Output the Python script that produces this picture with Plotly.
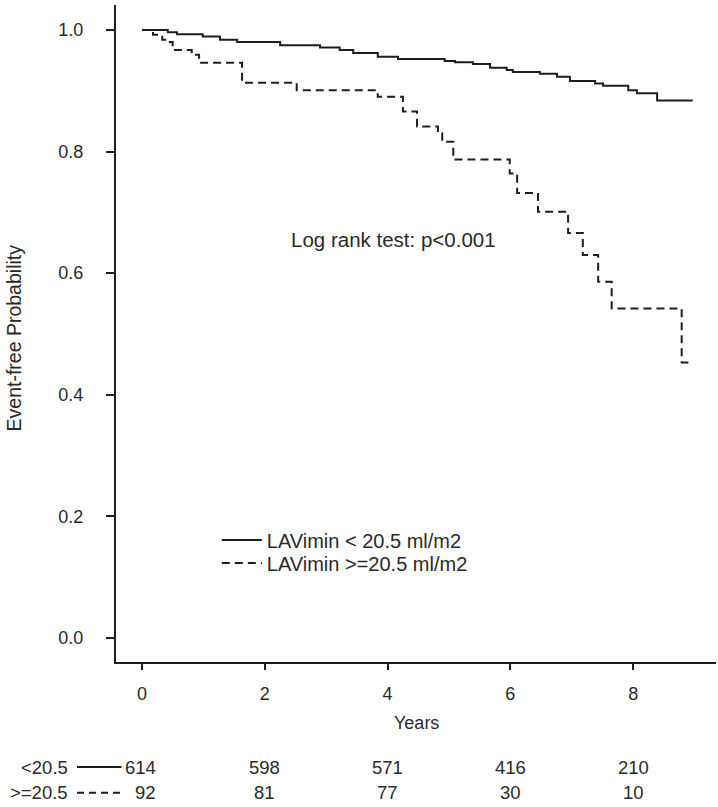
import plotly.graph_objects as go

# ---- data ----
low_times = [0, 0.42, 0.57, 0.99, 1.27, 1.55, 2.25, 2.90, 3.22, 3.44, 3.84, 4.17, 4.93, 5.10,
             5.39, 5.67, 5.94, 6.04, 6.48, 6.76, 6.97, 7.38, 7.51, 7.92, 8.06, 8.39, 8.97]
low_surv = [1.0, 0.996, 0.993, 0.989, 0.984, 0.980, 0.975, 0.971, 0.967, 0.962, 0.956, 0.952,
            0.949, 0.947, 0.944, 0.938, 0.934, 0.931, 0.928, 0.923, 0.916, 0.912, 0.908, 0.901,
            0.896, 0.884, 0.884]

high_times = [0, 0.18, 0.33, 0.42, 0.50, 0.81, 0.93, 1.63, 2.52, 3.84, 4.25, 4.48, 4.82, 4.89,
              5.07, 5.99, 6.11, 6.45, 6.94, 7.18, 7.43, 7.65, 8.79, 8.97]
high_surv = [1.0, 0.992, 0.984, 0.980, 0.967, 0.959, 0.946, 0.913, 0.901, 0.890, 0.866, 0.841,
             0.830, 0.816, 0.787, 0.764, 0.732, 0.701, 0.666, 0.630, 0.586, 0.542, 0.453, 0.453]

series_names = ["LAVimin < 20.5 ml/m2", "LAVimin >=20.5 ml/m2"]
risk_times = [0, 2, 4, 6, 8]
risk_low = [614, 598, 571, 416, 210]
risk_high = [92, 81, 77, 30, 10]
risk_labels = ["<20.5", ">=20.5"]
x_ticks = [0, 2, 4, 6, 8]
y_ticks = [0.0, 0.2, 0.4, 0.6, 0.8, 1.0]

INK = "#1e1e1e"
TXT = "#2a2a2a"
FONT = "Liberation Sans, Arial, sans-serif"

fig = go.Figure()
fig.add_trace(go.Scatter(x=low_times, y=low_surv, mode="lines", line_shape="hv",
                         name=series_names[0], legend="legend",
                         line=dict(color=INK, width=2)))
fig.add_trace(go.Scatter(x=high_times, y=high_surv, mode="lines", line_shape="hv",
                         name=series_names[1], legend="legend2",
                         line=dict(color=INK, width=2, dash="8px,5px")))

ann = []
ann.append(dict(text="Log rank test: p<0.001", x=4.1, y=0.656, xref="x", yref="y",
                showarrow=False, font=dict(size=20.5, color=TXT, family=FONT)))
ann.append(dict(text="Event-free Probability", x=-0.17, y=0.494, xref="paper", yref="paper",
                textangle=-90, showarrow=False, xanchor="center", yanchor="middle",
                font=dict(size=19.5, color=TXT, family=FONT)))
ann.append(dict(text="Years", x=0.5, y=-0.093, xref="paper", yref="paper",
                showarrow=False, xanchor="center", yanchor="middle",
                font=dict(size=18, color=TXT, family=FONT)))

row_y = [-0.160, -0.199]
for r, (lab, vals) in enumerate(zip(risk_labels, [risk_low, risk_high])):
    ann.append(dict(text=lab, x=-0.077, y=row_y[r], xref="paper", yref="paper",
                    showarrow=False, xanchor="right", yanchor="middle",
                    font=dict(size=18.5, color=TXT, family=FONT)))
    for i, (t, v) in enumerate(zip(risk_times, vals)):
        if i == 0:
            ann.append(dict(text=str(v), x=t, y=row_y[r], xref="x", yref="paper", xshift=16,
                            showarrow=False, xanchor="right", yanchor="middle",
                            font=dict(size=18.5, color=TXT, family=FONT)))
        else:
            ann.append(dict(text=str(v), x=t, y=row_y[r], xref="x", yref="paper",
                            showarrow=False, xanchor="center", yanchor="middle",
                            font=dict(size=18.5, color=TXT, family=FONT)))

shapes = [
    dict(type="line", xref="paper", yref="paper", x0=-0.065, x1=0.009, y0=row_y[0], y1=row_y[0],
         line=dict(color=INK, width=2)),
    dict(type="line", xref="paper", yref="paper", x0=-0.065, x1=0.007, y0=row_y[1], y1=row_y[1],
         line=dict(color=INK, width=2, dash="7px,5px")),
]

axis_common = dict(showline=True, linewidth=2, linecolor=INK, showgrid=False, zeroline=False,
                   ticks="outside", tickwidth=2, tickcolor=INK,
                   tickfont=dict(size=18, color=TXT, family=FONT))

legend_common = dict(xanchor="left", yanchor="middle", bgcolor="rgba(0,0,0,0)",
                     font=dict(size=20, color=TXT, family=FONT), itemwidth=40,
                     borderwidth=0)

fig.update_layout(
    width=718, height=807, autosize=False,
    margin=dict(l=116, r=2, t=5, b=145),
    paper_bgcolor="white", plot_bgcolor="white",
    xaxis=dict(range=[-0.423, 9.349], tickvals=x_ticks, ticklen=6, ticklabelstandoff=8,
               **axis_common),
    yaxis=dict(range=[-0.0395, 1.041], tickvals=y_ticks, tickformat=".1f", ticklen=8,
               ticklabelstandoff=19, **axis_common),
    showlegend=True,
    legend=dict(x=0.168, y=0.1857, **legend_common),
    legend2=dict(x=0.168, y=0.1507, **legend_common),
    annotations=ann,
    shapes=shapes,
    font=dict(family=FONT, color=TXT),
)

fig.write_html("out.html", config={"displayModeBar": False},
               post_script="document.body.style.margin='0px';")
